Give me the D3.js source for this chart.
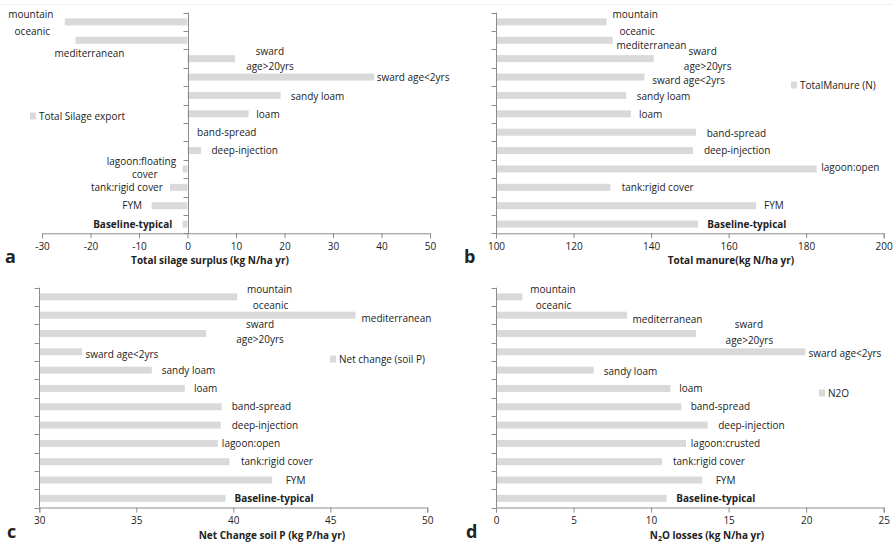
<!DOCTYPE html>
<html>
<head>
<meta charset="utf-8">
<script src="https://cdn.jsdelivr.net/npm/d3@7"></script>
<style>
  html, body { margin: 0; padding: 0; background: #fff; }
  svg { display: block; }
  text { font-family: "Open Sans", "DejaVu Sans", sans-serif; fill: #222; }
</style>
</head>
<body>
<svg id="chart" width="893" height="552"></svg>
<script>
// Scenario rows, top to bottom (shared by all four panels)
const rows = ["mountain", "oceanic", "sward age>20yrs", "sward age<2yrs", "sandy loam", "loam",
              "band-spread", "deep-injection", "lagoon", "tank:rigid cover", "FYM", "Baseline-typical"];

// Series values (one per row)
const silageSurplus  = [-25.3, -23.1, 9.8, 38.5, 19.2, 12.6, 0, 2.8, -1.0, -3.6, -7.4, -1.0];
const totalManure    = [128.5, 130.1, 140.7, 138.3, 133.6, 134.8, 151.6, 150.8, 182.7, 129.5, 167.1, 152.1];
const netChangeSoilP = [40.2, 46.3, 38.6, 32.2, 35.8, 37.5, 39.4, 39.35, 39.2, 39.8, 42.0, 39.6];
const n2oLosses      = [1.7, 8.45, 12.9, 19.95, 6.3, 11.25, 11.95, 13.65, 12.25, 10.7, 13.3, 11.0];

// Axis ticks
const ticksA = [-30, -20, -10, 0, 10, 20, 30, 40, 50];
const ticksB = [100, 120, 140, 160, 180, 200];
const ticksC = [30, 35, 40, 45, 50];
const ticksD = [0, 5, 10, 15, 20, 25];

// Legend entries
const legendA = "Total Silage  export";
const legendB = "TotalManure  (N)";
const legendC = "Net change (soil P)";
const legendD = "N2O";

// Text labels beside the bars: [text, row, x (data units), dy px, anchor, bold]
const labelsA = [
  ["mountain", 0, -32.3, -7], ["oceanic", 1, -32.0, -9], ["mediterranean", 2, -20.2, -5],
  ["sward", 2, 17.0, -7], ["age>20yrs", 2, 17.0, 8], ["sward age<2yrs", 3, 39.0, 0, "start"],
  ["sandy loam", 4, 26.8, 1], ["loam", 5, 16.6, 1], ["band-spread", 6, 8.1, 0],
  ["deep-injection", 7, 11.8, 0], ["lagoon:floating", 8, -9.5, -7.5], ["cover", 8, -8.8, 5.5],
  ["tank:rigid cover", 9, -12.5, 0], ["FYM", 10, -11.4, 0], ["Baseline-typical", 11, -11.3, 0, "middle", true]
];
const labelsB = [
  ["mountain", 0, 135.9, -7], ["oceanic", 1, 136.4, -9], ["mediterranean", 1, 140.1, 5],
  ["sward", 2, 153.3, -7], ["age>20yrs", 2, 154.6, 8], ["sward age<2yrs", 3, 149.7, 3],
  ["sandy loam", 4, 143.2, 1], ["loam", 5, 139.9, 1], ["band-spread", 6, 162.0, 1],
  ["deep-injection", 7, 162.2, 0], ["lagoon:open", 8, 191.4, -1], ["tank:rigid cover", 9, 141.7, 0],
  ["FYM", 10, 171.7, 0], ["Baseline-typical", 11, 164.7, 0, "middle", true]
];
const labelsC = [
  ["mountain", 0, 41.87, -7], ["oceanic", 1, 41.92, -10], ["mediterranean", 1, 48.41, 3.5],
  ["sward", 2, 41.38, -8.5], ["age>20yrs", 2, 41.38, 6.5], ["sward age<2yrs", 3, 34.26, 3],
  ["sandy loam", 4, 37.69, 0], ["loam", 5, 38.57, 0], ["band-spread", 6, 41.45, 0],
  ["deep-injection", 7, 41.63, 0], ["lagoon:open", 8, 40.91, 0], ["tank:rigid cover", 9, 42.25, 0],
  ["FYM", 10, 43.21, 0], ["Baseline-typical", 11, 42.10, 0, "middle", true]
];
const labelsD = [
  ["mountain", 0, 3.67, -7], ["oceanic", 1, 3.71, -10], ["mediterranean", 1, 11.06, 4],
  ["sward", 2, 16.31, -8.5], ["age>20yrs", 2, 16.34, 7.5], ["sward age<2yrs", 3, 22.5, 2],
  ["sandy loam", 4, 8.67, 1], ["loam", 5, 12.57, 0], ["band-spread", 6, 14.47, 0],
  ["deep-injection", 7, 16.47, 0], ["lagoon:crusted", 8, 14.8, 0], ["tank:rigid cover", 9, 13.73, 0],
  ["FYM", 10, 14.8, 0], ["Baseline-typical", 11, 14.18, 0, "middle", true]
];

const svg = d3.select("#chart");
const BAR = "#d9d9d9";
const AXIS = "#8c8c8c";

// faint frame line along the top of the figure
svg.append("line").attr("x1", 0).attr("x2", 893).attr("y1", 4.5).attr("y2", 4.5)
  .attr("stroke", "#f1f1f1");

function panel(cfg) {
  const g = svg.append("g");
  const x = d3.scaleLinear().domain(cfg.domain).range(cfg.xRange);
  const y = d3.scaleBand().domain(d3.range(rows.length)).range(cfg.yRange)
    .paddingInner(0.62).paddingOuter(0.31);
  const step = y.step();
  const base = cfg.base;

  // bars
  g.selectAll("rect.bar").data(cfg.values).join("rect")
    .attr("class", "bar")
    .attr("x", d => Math.min(x(base), x(d)))
    .attr("width", d => Math.abs(x(d) - x(base)))
    .attr("y", (d, i) => y(i))
    .attr("height", y.bandwidth())
    .attr("fill", BAR);

  // x axis
  const xAxis = d3.axisBottom(x).tickValues(cfg.ticks).tickSize(5).tickPadding(6)
    .tickFormat(d3.format("d"));
  const xa = g.append("g").attr("transform", `translate(0,${cfg.yRange[1]})`).call(xAxis);
  xa.select(".domain").attr("stroke", AXIS);
  xa.selectAll(".tick line").attr("stroke", AXIS);
  xa.selectAll(".tick text").attr("font-size", 10).attr("fill", "#333")
    .attr("font-family", "'Open Sans', sans-serif").attr("dy", "0.55em")
    .text(d => d < 0 ? "-" + Math.abs(d) : d);

  // y axis: line with ticks at band boundaries
  const yx = Math.round(x(base)) + 0.5;
  g.append("line").attr("x1", yx).attr("x2", yx)
    .attr("y1", cfg.yRange[0]).attr("y2", cfg.yRange[1]).attr("stroke", AXIS);
  g.selectAll("line.ytick").data(d3.range(rows.length + 1)).join("line")
    .attr("class", "ytick")
    .attr("x1", yx - 5).attr("x2", yx)
    .attr("y1", i => Math.round(cfg.yRange[0] + i * step) + 0.5)
    .attr("y2", i => Math.round(cfg.yRange[0] + i * step) + 0.5)
    .attr("stroke", AXIS);

  // bar labels
  g.selectAll("text.lbl").data(cfg.labels).join("text")
    .attr("class", "lbl")
    .attr("x", d => x(d[2]))
    .attr("y", d => y(d[1]) + y.bandwidth() / 2 + d[3])
    .attr("dy", "0.35em")
    .attr("text-anchor", d => d[4] || "middle")
    .attr("font-size", 10)
    .attr("font-weight", d => d[5] ? "bold" : "normal")
    .text(d => d[0]);

  // legend
  g.append("rect").attr("x", cfg.legend[0]).attr("y", cfg.legend[1] - 3.5)
    .attr("width", 6).attr("height", 7).attr("fill", BAR);
  g.append("text").attr("x", cfg.legend[0] + 9).attr("y", cfg.legend[1]).attr("dy", "0.35em")
    .attr("font-size", 10).text(cfg.legendText);

  // axis title
  const t = g.append("text").attr("x", cfg.titleX).attr("y", cfg.yRange[1] + 31)
    .attr("text-anchor", "middle").attr("font-size", 10).attr("font-weight", "bold");
  cfg.title.forEach(part => {
    const ts = t.append("tspan").text(part.t);
    if (part.sub) ts.attr("font-size", 7).attr("dy", 2);
    if (part.after) ts.attr("dy", -2);
  });

  // panel letter
  g.append("text").attr("x", cfg.letterX).attr("y", cfg.yRange[1] + 30)
    .attr("font-family", "'Liberation Sans', Arial, sans-serif")
    .attr("font-size", 18).attr("font-weight", "bold").attr("fill", "#111")
    .text(cfg.letter);
}

panel({
  values: silageSurplus, domain: [-30, 50], base: 0, ticks: ticksA,
  xRange: [42, 430], yRange: [12.7, 233.3], labels: labelsA,
  legend: [30, 116], legendText: legendA,
  title: [{t: "Total silage  surplus (kg N/ha yr)"}], titleX: 210, letter: "a", letterX: 5
});
panel({
  values: totalManure, domain: [100, 200], base: 100, ticks: ticksB,
  xRange: [496, 883.7], yRange: [12.7, 233.3], labels: labelsB,
  legend: [791, 85], legendText: legendB,
  title: [{t: "Total manure(kg N/ha yr)"}], titleX: 731, letter: "b", letterX: 464
});
panel({
  values: netChangeSoilP, domain: [30, 50], base: 30, ticks: ticksC,
  xRange: [39.3, 427.3], yRange: [287.7, 507.5], labels: labelsC,
  legend: [330, 359], legendText: legendC,
  title: [{t: "Net Change soil P (kg P/ha yr)"}], titleX: 272, letter: "c", letterX: 7
});
panel({
  values: n2oLosses, domain: [0, 25], base: 0, ticks: ticksD,
  xRange: [496, 883.7], yRange: [287.7, 507.5], labels: labelsD,
  legend: [819, 393], legendText: legendD,
  title: [{t: "N"}, {t: "2", sub: true}, {t: "O losses (kg N/ha yr)", after: true}], titleX: 707,
  letter: "d", letterX: 466
});
</script>
</body>
</html>
